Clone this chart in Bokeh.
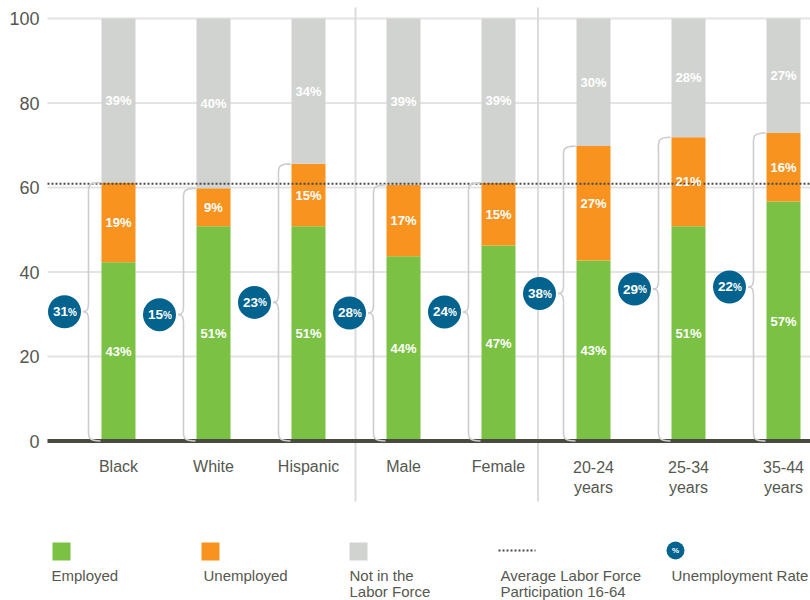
from bokeh.plotting import figure
from bokeh.models import Range1d
from bokeh.core.properties import value
from bokeh.embed import file_html
from bokeh.resources import INLINE

# ---------------- data ----------------
categories = ["Black", "White", "Hispanic", "Male", "Female",
              "20-24 years", "25-34 years", "35-44 years"]
cat_line1 = ["Black", "White", "Hispanic", "Male", "Female", "20-24", "25-34", "35-44"]
cat_line2 = ["", "", "", "", "", "years", "years", "years"]
employed = [42.3, 50.8, 50.8, 43.7, 46.3, 42.7, 50.8, 56.7]
unemployed = [18.9, 9.0, 14.8, 16.9, 14.8, 27.1, 21.1, 16.2]
employed_labels = ["43%", "51%", "51%", "44%", "47%", "43%", "51%", "57%"]
unemployed_labels = ["19%", "9%", "15%", "17%", "15%", "27%", "21%", "16%"]
notlf_labels = ["39%", "40%", "34%", "39%", "39%", "30%", "28%", "27%"]
unemployment_rate = ["31", "15", "23", "28", "24", "38", "29", "22"]
avg_participation = 60.9
y_ticks = [0, 20, 40, 60, 80, 100]
y_max = 100
legend_labels = [["Employed"], ["Unemployed"], ["Not in the", "Labor Force"],
                 ["Average Labor Force", "Participation 16-64"], ["Unemployment Rate"]]

# ---------------- style ----------------
GREEN = "#7bc143"
ORANGE = "#f7931e"
GREY = "#d1d3d0"
BLUE = "#03638f"
GRID = "#e3e3e3"
BASE = "#474c3e"
TEXT = "#55584f"
BRACE = "#cdcdcd"
FONT = value("Liberation Sans")

W, H = 810, 600
ORIGIN = 0
# pixel <-> data helpers (picture pixel coords)
X0_PX, PX_PER_X = 118.0, 95.0
Y0_PX, PX_PER_Y = 440.5, 4.225


def X(px):
    return (px - X0_PX) / PX_PER_X


def Y(py):
    return (Y0_PX - py) / PX_PER_Y


def dx(px):
    return px / PX_PER_X


def dy(px):
    return px / PX_PER_Y


p = figure(width=W, height=H, output_backend="svg", toolbar_location=None,
           x_axis_location=None, y_axis_location=None,
           x_range=Range1d(X(ORIGIN), X(ORIGIN + W)),
           y_range=Range1d(Y(ORIGIN + H), Y(ORIGIN)),
           min_border=0, outline_line_color=None)
p.xgrid.visible = False
p.ygrid.visible = False
p.background_fill_color = "white"
p.border_fill_color = "white"

n = len(categories)
xs = list(range(n))
tops = [e + u for e, u in zip(employed, unemployed)]

# gridlines
p.segment(x0=[X(47)] * len(y_ticks), y0=y_ticks, x1=[X(812)] * len(y_ticks), y1=y_ticks,
          line_color=GRID, line_width=2)
# y tick labels
p.text(x=[X(39)] * len(y_ticks), y=y_ticks, text=[str(t) for t in y_ticks],
       text_align="right", text_baseline="middle", text_font=FONT,
       text_font_size="18px", text_color=TEXT)

# group separators
sep_x = [X(355), X(537.5)]
p.segment(x0=sep_x, y0=[Y(7)] * 2, x1=sep_x, y1=[Y(501)] * 2,
          line_color="#dcdcdc", line_width=2)

# stacked bars
bw = dx(34)
p.vbar(x=xs, bottom=0, top=employed, width=bw, fill_color=GREEN, line_color=None)
p.vbar(x=xs, bottom=employed, top=tops, width=bw, fill_color=ORANGE, line_color=None)
p.vbar(x=xs, bottom=tops, top=y_max, width=bw, fill_color=GREY, line_color=None)

# baseline
p.segment(x0=[X(47)], y0=[0], x1=[X(812)], y1=[0], line_color=BASE, line_width=4)

# average participation
p.segment(x0=[X(47)], y0=[avg_participation], x1=[X(812)], y1=[avg_participation],
          line_color="#4a4a4a", line_width=2, line_dash="2 2")

# bar labels
lab_kw = dict(text_align="center", text_baseline="middle", text_font=FONT,
              text_font_size="13px", text_color="white", text_font_style="bold")
p.text(x=xs, y=[e / 2 for e in employed], text=employed_labels, **lab_kw)
p.text(x=xs, y=[(e + t) / 2 for e, t in zip(employed, tops)], text=unemployed_labels, **lab_kw)
p.text(x=xs, y=[(t + y_max) / 2 for t in tops], text=notlf_labels, **lab_kw)

# braces
bx0, by0, bx1, by1, bcx0, bcy0, bcx1, bcy1 = [], [], [], [], [], [], [], []
sx0, sy0, sx1, sy1 = [], [], [], []
r_end = dy(15)
r_tip = dy(9)
for i, t in enumerate(tops):
    m = t / 2
    xe = i + dx(-18)
    xs_ = i + dx(-30)
    xt = i + dx(-35.5)
    curves = [
        (xe, t, xs_, t - r_end, xs_ + dx(-2), t, xs_, t - r_end * 0.3),
        (xs_, m + r_tip, xt, m, xs_, m + r_tip * 0.2, xs_ - dx(1.5), m),
        (xt, m, xs_, m - r_tip, xs_ - dx(1.5), m, xs_, m - r_tip * 0.2),
        (xs_, r_end, xe, 0, xs_, r_end * 0.3, xs_ + dx(-2), 0),
    ]
    for c in curves:
        bx0.append(c[0]); by0.append(c[1]); bx1.append(c[2]); by1.append(c[3])
        bcx0.append(c[4]); bcy0.append(c[5]); bcx1.append(c[6]); bcy1.append(c[7])
    sx0 += [xs_, xs_]
    sy0 += [t - r_end, m - r_tip]
    sx1 += [xs_, xs_]
    sy1 += [m + r_tip, r_end]
p.bezier(x0=bx0, y0=by0, x1=bx1, y1=by1, cx0=bcx0, cy0=bcy0, cx1=bcx1, cy1=bcy1,
         line_color=BRACE, line_width=1.6)
p.segment(x0=sx0, y0=sy0, x1=sx1, y1=sy1, line_color=BRACE, line_width=1.6)

# unemployment rate circles
cx = [i + dx(-54) for i in xs]
cy = [t / 2 for t in tops]
p.scatter(x=cx, y=cy, size=33, marker="circle", fill_color=BLUE, line_color=None)
p.text(x=cx, y=cy, text=unemployment_rate, x_offset=3.5, text_align="right",
       text_baseline="middle", text_font=FONT, text_font_size="13.5px",
       text_color="white", text_font_style="bold")
p.text(x=cx, y=cy, text=["%"] * n, x_offset=3.5, y_offset=0.5, text_align="left",
       text_baseline="middle", text_font=FONT, text_font_size="10px",
       text_color="white", text_font_style="bold")

# category labels
p.text(x=xs, y=[Y(466)] * n, text=cat_line1, text_align="center",
       text_baseline="alphabetic", text_font=FONT, text_font_size="16px", text_color=TEXT)
p.text(x=xs, y=[Y(487)] * n, text=cat_line2, text_align="center",
       text_baseline="alphabetic", text_font=FONT, text_font_size="16px", text_color=TEXT)

# legend
sq_x = [X(61), X(210), X(358)]
p.scatter(x=sq_x, y=[Y(551)] * 3, marker="square", size=18,
          fill_color=[GREEN, ORANGE, GREY], line_color=None)
p.segment(x0=[X(498)], y0=[Y(550)], x1=[X(535)], y1=[Y(550)],
          line_color="#4a4a4a", line_width=2, line_dash="2 2")
p.scatter(x=[X(675)], y=[Y(550)], marker="circle", size=18, fill_color=BLUE, line_color=None)
p.text(x=[X(675)], y=[Y(550)], text=["%"], text_align="center", text_baseline="middle",
       text_font=FONT, text_font_size="8px", text_color="white", text_font_style="bold")
leg_x = [X(51), X(203), X(349), X(500), X(671)]
for lx, lines in zip(leg_x, legend_labels):
    p.text(x=[lx] * len(lines), y=[Y(575 + 16 * k) for k in range(len(lines))], text=lines,
           text_align="left", text_baseline="alphabetic", text_font=FONT,
           text_font_size="15px", text_color=TEXT)

open("out.html", "w").write(file_html(p, INLINE))
